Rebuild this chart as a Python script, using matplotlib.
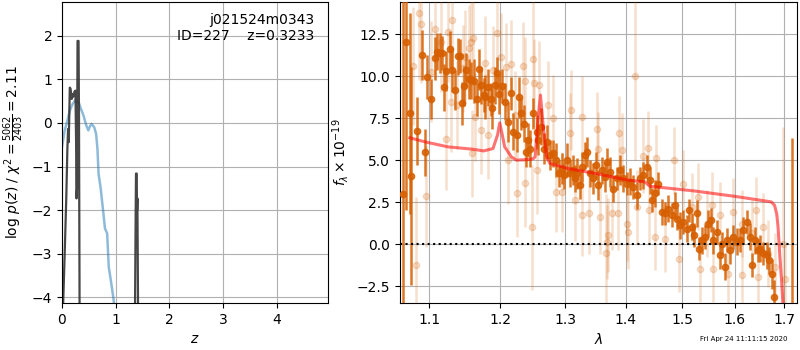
import matplotlib
matplotlib.use('Agg')
import numpy as np
import matplotlib.pyplot as plt
from matplotlib.ticker import FixedLocator, NullLocator, FixedFormatter, MultipleLocator

# --- p(z) panel ---
z_chi = [0.0, 0.02, 0.05, 0.08, 0.10, 0.113, 0.126, 0.145, 0.16, 0.18, 0.195,
         0.21, 0.233, 0.25, 0.262, 0.27, 0.279, 0.289, 0.308, 0.316, 0.327,
         0.36, 1.33, 1.359, 1.371, 1.377, 1.39, 1.396, 1.403, 1.415, 1.45, 4.95]
logp_chi = [-8.0, -4.2, -3.0, -1.7, -0.6, -0.14, -0.44, 0.81, 0.78, 0.55, 0.66,
            0.6, 0.72, 0.74, -0.4, -1.73, -1.5, 1.88, 1.88, 0.2, -4.2,
            -8.0, -8.0, -4.2, -2.07, -1.16, -1.16, -2.0, -1.73, -4.2, -8.0, -8.0]

z_prior = [0.0, 0.05, 0.10, 0.145, 0.19, 0.24, 0.31, 0.36, 0.40, 0.45, 0.49,
           0.52, 0.55, 0.60, 0.635, 0.66, 0.68, 0.72, 0.77, 0.80, 0.84, 0.87,
           0.92, 0.96, 1.02]
logp_prior = [-0.55, -0.17, 0.05, 0.28, 0.42, 0.51, 0.47, 0.3, 0.17, -0.05,
              -0.17, -0.08, -0.02, -0.1, -0.25, -0.6, -1.16, -1.5, -2.07,
              -2.42, -2.53, -3.3, -3.7, -4.05, -4.8]

# --- spectrum panel ---
wave_d = [1.0651, 1.0694, 1.0738, 1.0760, 1.0840, 1.0906, 1.0946, 1.0973, 1.1027,
          1.1081, 1.1108, 1.1141, 1.1173, 1.1196, 1.1224, 1.1279, 1.1316, 1.1349,
          1.1395, 1.1423, 1.1451, 1.1480, 1.1512, 1.1550, 1.1583, 1.1622, 1.1655,
          1.1689, 1.1726, 1.1761, 1.1784, 1.1823, 1.1857, 1.1886, 1.1921, 1.1959,
          1.1984, 1.2032, 1.2077, 1.2117, 1.2157, 1.2191, 1.2251, 1.2281, 1.2316,
          1.2357, 1.2392, 1.2422, 1.2448, 1.2489, 1.2551, 1.2576, 1.2618, 1.2664,
          1.2706, 1.2757, 1.2809, 1.2852, 1.2904, 1.2942, 1.2983, 1.3021, 1.3074,
          1.3118, 1.3155, 1.3192, 1.3236, 1.3274, 1.3317, 1.3345, 1.3399, 1.3443,
          1.3498, 1.3536, 1.3592, 1.3648, 1.3687, 1.3732, 1.3788, 1.3845, 1.3901,
          1.3958, 1.4016, 1.4073, 1.4130, 1.4188, 1.4246, 1.4304, 1.4364, 1.4422,
          1.4452, 1.4511, 1.4570, 1.4630, 1.4690, 1.4749, 1.4810, 1.4871, 1.4902,
          1.4963, 1.5024, 1.5086, 1.5134, 1.5178, 1.5227, 1.5272, 1.5321, 1.5366,
          1.5428, 1.5491, 1.5536, 1.5586, 1.5651, 1.5715, 1.5748, 1.5811, 1.5856,
          1.5909, 1.5974, 1.6040, 1.6105, 1.6171, 1.6238, 1.6304, 1.6350, 1.6404,
          1.6459, 1.6505, 1.6572, 1.6641, 1.6695, 1.6744, 1.6797, 1.7158]
flux_d = [3.0, 12.04, 7.78, 4.05, 6.73, 11.25, 5.46, 9.96, 8.63,
          11.05, 11.45, 11.39, 11.39, 9.33, 10.3, 11.6, 10.36, 9.17,
          11.19, 11.19, 8.37, 9.4, 10.36, 9.82, 9.76, 9.72, 8.61,
          10.4, 9.46, 8.87, 8.77, 9.33, 8.61, 8.08, 9.46, 10.16,
          8.93, 9.4, 8.47, 7.28, 8.97, 6.68, 6.49, 8.73, 7.78,
          7.18, 5.49, 6.19, 5.69, 7.78, 6.68, 6.19, 6.98, 5.69,
          6.09, 5.3, 5.4, 5.0, 4.21, 4.5, 4.11, 5.0, 4.21,
          4.4, 3.91, 4.21, 3.51, 4.6, 5.3, 5.49, 4.21, 3.91,
          4.7, 3.51, 4.4, 4.0, 4.9, 4.3, 3.31, 3.91, 4.4,
          3.91, 3.61, 3.71, 3.41, 2.92, 3.91, 4.1, 4.6, 3.81,
          2.62, 3.02, 3.61, 1.92, 1.83, 2.12, 1.73, 2.32, 1.53,
          1.13, 1.33, 0.93, 2.02, 1.03, 0.54, 1.83, -0.26, 0.24,
          0.44, 1.23, 1.43, 0.24, 0.73, -0.65, 0.04, -1.35, 0.24,
          -0.36, 0.44, 0.14, 0.24, 0.83, 1.33, 0.44, -1.25, 0.24,
          -0.36, -0.26, -0.55, -0.65, -0.95, -1.75, -3.14, -5.0]
err_d = [14.0, 10.0, 6.0, 6.5, 2.0, 1.5, 1.4, 1.3, 1.2,
         1.3, 1.1, 1.2, 1.0, 1.4, 1.2, 1.1, 1.3, 1.2,
         1.1, 1.0, 1.3, 1.2, 1.0, 1.2, 1.1, 1.3, 1.0,
         1.2, 1.1, 1.0, 1.3, 1.1, 1.0, 1.2, 1.1, 1.0,
         1.2, 1.0, 1.1, 1.2, 1.0, 1.1, 1.0, 1.2, 1.0,
         1.1, 0.9, 1.0, 1.1, 0.9, 1.0, 0.9, 1.1, 0.9,
         1.0, 0.9, 0.8, 1.0, 0.8, 0.9, 0.8, 1.0, 0.8,
         0.9, 0.8, 0.9, 0.8, 0.9, 0.8, 0.9, 0.8, 0.9,
         0.8, 0.9, 0.8, 0.9, 0.8, 0.9, 0.8, 0.7, 0.9,
         0.8, 0.7, 0.8, 0.7, 0.8, 0.7, 0.8, 0.7, 0.8,
         0.7, 0.8, 0.7, 0.8, 0.7, 0.8, 0.7, 0.8, 0.7,
         0.8, 0.7, 0.8, 0.7, 0.8, 0.7, 0.8, 0.7, 0.8,
         0.7, 0.8, 0.7, 0.8, 0.7, 0.8, 0.7, 0.8, 0.7,
         0.8, 0.7, 0.8, 0.7, 0.8, 0.7, 0.8, 0.7, 0.8,
         0.7, 0.8, 0.7, 0.8, 0.8, 0.9, 1.0, 11.3]

wave_l = [1.0783, 1.0827, 1.0858, 1.0892, 1.0959, 1.1027, 1.1081, 1.1162, 1.1224,
          1.1255, 1.1301, 1.1316, 1.1385, 1.1466, 1.1490, 1.1550, 1.1574, 1.1593,
          1.1608, 1.1632, 1.1717, 1.1774, 1.1823, 1.1896, 1.1945, 1.2017, 1.2092,
          1.2117, 1.2166, 1.2226, 1.2256, 1.2342, 1.2367, 1.2376, 1.2480, 1.2490,
          1.2510, 1.2561, 1.2591, 1.2731, 1.2809, 1.2852, 1.2942, 1.3074, 1.3085,
          1.3155, 1.3262, 1.3270, 1.3388, 1.3509, 1.3536, 1.3564, 1.3660, 1.3676,
          1.3704, 1.3760, 1.3873, 1.3889, 1.3929, 1.4016, 1.4044, 1.4159, 1.4188,
          1.4293, 1.4392, 1.4410, 1.4511, 1.4529, 1.4690, 1.4858, 1.4950, 1.5024,
          1.5178, 1.5302, 1.5334, 1.5460, 1.5555, 1.5574, 1.5715, 1.5876, 1.5974,
          1.6138, 1.6150, 1.6337, 1.6422, 1.6464, 1.6572, 1.6676, 1.6811, 1.6985,
          1.7019]
flux_l = [10.6, -1.21, 13.77, 13.1, 2.86, 10.26, 12.78, 12.04, 6.23,
          12.64, 8.47, 13.33, 8.27, 10.46, 11.15, 11.65, 12.04, 5.4,
          12.24, 7.58, 6.79, 10.75, 6.49, 10.36, 12.54, 11.15, 10.55,
          5.0, 10.71, 7.68, 3.05, 10.6, 3.65, 9.7, 1.0, 11.0,
          9.6, 4.4, 9.46, 8.27, 7.48, 3.11, 3.11, 6.59, 7.98,
          2.62, 7.58, 1.73, 1.83, 6.83, 5.64, 1.63, -0.5, 0.14,
          0.54, 1.83, 1.83, 6.59, 5.6, 1.23, 0.73, 10.0, 2.22,
          5.24, 5.75, 2.02, 0.44, 5.1, 0.34, 5.0, -0.85, 3.61,
          2.22, 2.82, -1.45, 1.23, 2.32, -1.45, 1.73, -1.75, 1.92,
          -1.85, 1.23, 0.64, 2.02, -1.95, 1.03, -0.55, -1.35, 0.0,
          -2.04]
err_l = [3.5, 4.0, 4.0, 3.5, 3.0, 3.0, 3.0, 3.0, 3.0,
         3.0, 3.0, 3.0, 2.6, 2.6, 2.8, 2.6, 2.6, 2.6,
         2.6, 2.6, 2.6, 2.8, 2.6, 2.6, 2.6, 2.6, 2.6,
         2.6, 2.6, 2.6, 2.6, 2.6, 2.6, 2.6, 3.7, 4.0,
         2.6, 2.6, 2.6, 2.6, 2.6, 2.4, 2.4, 2.4, 2.4,
         2.4, 2.4, 2.4, 2.4, 2.2, 2.2, 2.2, 3.5, 2.2,
         2.2, 2.2, 2.2, 2.2, 2.2, 2.2, 2.2, 5.0, 2.2,
         2.2, 2.2, 2.0, 2.0, 2.0, 2.0, 2.0, 2.0, 2.0,
         2.0, 2.0, 2.0, 2.0, 2.0, 2.0, 2.0, 2.0, 2.0,
         2.0, 2.0, 2.0, 2.0, 2.0, 2.0, 2.0, 2.0, 7.0,
         2.0]

model_wave = [1.0739, 1.0938, 1.1255, 1.1605, 1.1756, 1.1893, 1.1960, 1.1992,
              1.2030, 1.2065, 1.2164, 1.2238, 1.2443, 1.2500, 1.2524, 1.2570,
              1.2607, 1.2650, 1.2700, 1.2756, 1.3045, 1.3500, 1.4040, 1.4330,
              1.4419, 1.5226, 1.6000, 1.6736, 1.6804, 1.6850, 1.6877, 1.6915,
              1.6950, 1.6980]
model_flux = [6.33, 6.09, 5.79, 5.65, 5.55, 5.69, 6.5, 7.22,
              6.5, 5.79, 5.2, 5.0, 5.04, 5.1, 5.2, 7.5,
              8.87, 7.0, 5.2, 4.8, 4.5, 4.2, 3.81, 3.71,
              3.45, 3.17, 2.85, 2.52, 2.32, 1.8, 1.03, -0.75,
              -2.14, -3.6]

lam_ticks = [1.1, 1.2, 1.3, 1.4, 1.5, 1.6, 1.7]
lam_labels = ['1.1', '1.2', '1.3', '1.4', '1.5', '1.6', '1.7']

orange = '#d65f00'

fig = plt.figure(figsize=(8, 3.5), dpi=100)

# p(z)
ax = fig.add_axes([0.0775, 0.134, 0.3325, 0.86])
ax.plot(z_prior, logp_prior, color='#1f77b4', alpha=0.5, lw=1.8)
ax.plot(z_chi, logp_chi, color='0.2', alpha=0.9, lw=1.6)
ax.set_xlim(0, 4.95)
ax.set_ylim(-4.13, 2.77)
ax.set_xticks([0, 1, 2, 3, 4])
ax.grid()
ax.set_xlabel(r'$z$')
ax.set_ylabel(r'log $p(z)$ / $\chi^2=\frac{5062}{2403}=2.11$')
ax.text(0.95, 0.965, 'j021524m0343\nID=227    z=0.3233',
        ha='right', va='top', transform=ax.transAxes)

# spectrum
ax2 = fig.add_axes([0.5, 0.134, 0.496, 0.86])
ax2.errorbar(wave_l, flux_l, yerr=err_l, fmt='o', color=orange, alpha=0.2,
             ms=4.5, elinewidth=1.8, capsize=0, zorder=3)
ax2.errorbar(wave_d, flux_d, yerr=err_d, fmt='o', color=orange, alpha=0.85,
             ms=4.5, elinewidth=1.8, capsize=0, zorder=4)
ax2.plot(model_wave, model_flux, color='r', alpha=0.55, lw=2.2, zorder=5)
ax2.axhline(0, color='k', ls=':', lw=1.5, zorder=6)
ax2.set_xscale('log')
ax2.set_xlim(1.061, 1.727)
ax2.set_ylim(-3.5, 14.4)
ax2.yaxis.set_major_locator(MultipleLocator(2.5))
ax2.xaxis.set_major_locator(FixedLocator(lam_ticks))
ax2.xaxis.set_major_formatter(FixedFormatter(lam_labels))
ax2.xaxis.set_minor_locator(NullLocator())
ax2.grid()
ax2.set_xlabel(r'$\lambda$')
ax2.set_ylabel(r'$f_\lambda \times 10^{-19}$')

fig.text(0.985, 0.031, 'Fri Apr 24 11:11:15 2020', ha='right', va='center',
         fontsize=5)

fig.savefig('out.png', dpi=100, facecolor='white')
